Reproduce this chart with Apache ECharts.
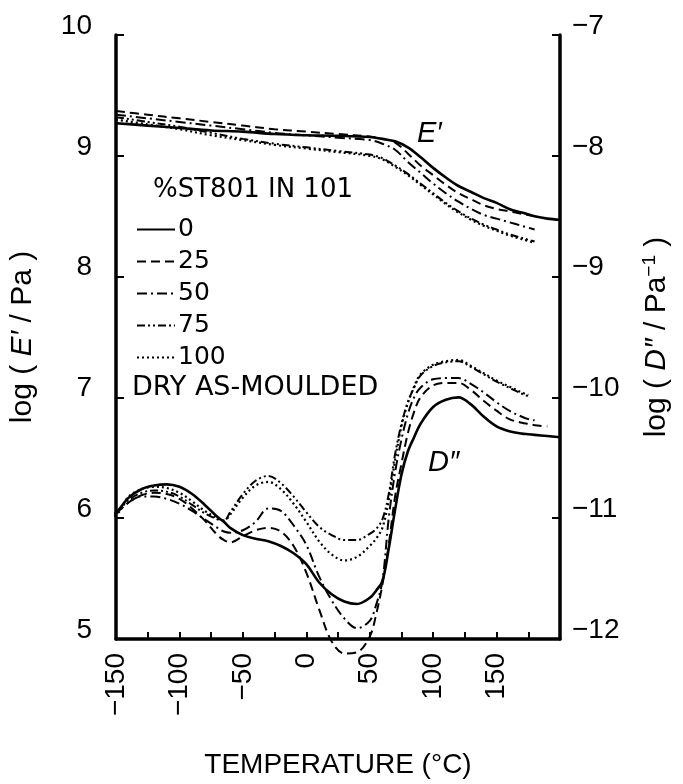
<!DOCTYPE html>
<html>
<head>
<meta charset="utf-8">
<script src="https://cdn.jsdelivr.net/npm/echarts@6/dist/echarts.min.js"></script>
<style>html,body{margin:0;padding:0;background:#fff}#c{width:683px;height:784px}</style>
</head>
<body>
<div id="c"></div>
<script>
// ---- data ----
const compositions = ['0', '25', '50', '75', '100'];
const xTickLabels = [-150, -100, -50, 0, 50, 100, 150];
const yLeftTicks = [5, 6, 7, 8, 9, 10];
const yRightTicks = [-12, -11, -10, -9, -8, -7];

// storage modulus log(E'/Pa)
const tempE = [-150,-125,-100,-75,-50,-25,0,25,50,60,70,80,90,100,110,120,130,140,150,160,170,180,190,200];
const E0   = [9.27,9.25,9.23,9.21,9.20,9.18,9.17,9.165,9.155,9.14,9.12,9.07,8.99,8.90,8.82,8.75,8.70,8.65,8.61,8.56,8.53,8.50,8.48,8.47];
const E25  = [9.37,9.34,9.31,9.28,9.25,9.22,9.20,9.18,9.16,9.14,9.11,9.02,8.92,8.84,8.76,8.69,8.64,8.59,8.56,8.54,8.52,8.50,null,null];
const E50  = [9.34,9.31,9.28,9.25,9.22,9.19,9.17,9.15,9.13,9.10,9.05,8.95,8.86,8.77,8.69,8.62,8.56,8.51,8.48,8.45,8.42,8.39,null,null];
const E75  = [9.32,9.28,9.24,9.19,9.14,9.10,9.07,9.04,9.01,8.98,8.92,8.85,8.77,8.69,8.61,8.54,8.48,8.43,8.39,8.35,8.32,8.29,null,null];
const E100 = [9.30,9.26,9.22,9.17,9.13,9.09,9.06,9.03,9.00,8.97,8.91,8.84,8.76,8.68,8.60,8.53,8.47,8.42,8.38,8.34,8.31,8.28,null,null];

// loss compliance log(D''/Pa^-1)
const tempD = [-160,-150,-140,-130,-120,-110,-100,-90,-80,-70,-65,-60,-50,-40,-30,-20,-10,0,10,20,30,40,50,55,60,65,70,75,80,85,90,100,110,120,130,140,150,160,170,175,180,190,200];
const D0   = [-11.07,-10.96,-10.83,-10.76,-10.73,-10.72,-10.74,-10.80,-10.89,-10.99,-11.03,-11.08,-11.14,-11.17,-11.19,-11.23,-11.29,-11.38,-11.53,-11.63,-11.69,-11.71,-11.66,-11.60,-11.52,-11.25,-10.93,-10.64,-10.45,-10.33,-10.22,-10.08,-10.02,-10.00,-10.06,-10.16,-10.24,-10.28,-10.30,-10.305,-10.31,-10.32,-10.33];
const D25  = [null,-10.96,-10.87,-10.81,-10.79,-10.80,-10.84,-10.92,-11.02,-11.14,-11.18,-11.20,-11.15,-11.10,-11.08,-11.11,-11.23,-11.45,-11.75,-12.02,-12.12,-12.11,-11.98,-11.80,-11.55,-11.22,-10.82,-10.55,-10.30,-10.12,-10.00,-9.90,-9.88,-9.88,-9.94,-10.03,-10.11,-10.18,-10.21,-10.22,-10.23,-10.24,null];
const D50  = [null,-10.96,-10.87,-10.82,-10.82,-10.84,-10.88,-10.94,-11.01,-11.08,-11.11,-11.12,-11.10,-11.03,-10.92,-10.94,-11.06,-11.22,-11.48,-11.68,-11.83,-11.91,-11.85,-11.72,-11.52,-11.00,-10.62,-10.35,-10.14,-10.00,-9.92,-9.85,-9.84,-9.84,-9.89,-9.96,-10.04,-10.11,-10.16,-10.18,-10.19,null,null];
const D75  = [null,-10.96,-10.85,-10.79,-10.77,-10.78,-10.82,-10.89,-10.96,-11.01,-11.02,-10.95,-10.80,-10.69,-10.65,-10.71,-10.82,-10.95,-11.07,-11.14,-11.18,-11.18,-11.13,-11.09,-11.01,-10.80,-10.47,-10.22,-10.04,-9.92,-9.82,-9.74,-9.71,-9.70,-9.75,-9.81,-9.87,-9.92,-9.97,-9.99,null,null,null];
const D100 = [-10.95,-10.96,-10.82,-10.76,-10.74,-10.75,-10.79,-10.86,-10.94,-11.00,-11.02,-10.97,-10.83,-10.73,-10.70,-10.76,-10.88,-11.03,-11.19,-11.30,-11.35,-11.32,-11.23,-11.17,-11.08,-10.85,-10.52,-10.24,-10.05,-9.91,-9.81,-9.73,-9.70,-9.69,-9.74,-9.80,-9.86,-9.91,-9.96,-9.98,null,null,null];

// ---- chart ----
const Eset = [E0, E25, E50, E75, E100];
const Dset = [D0, D25, D50, D75, D100];
const styles = [
  {type: 'solid', width: 2.6},
  {type: [9, 5], width: 2},
  {type: [10, 4, 2, 4], width: 2},
  {type: [8, 3, 2, 3, 2, 3], width: 2},
  {type: [2, 3], width: 2.2}
];
function zip(xs, ys) { return xs.map((x, i) => [x, ys[i]]); }
const MINUS = '\u2212';
function fmt(v) { return v < 0 ? MINUS + Math.abs(v) : String(v); }

const series = [];
compositions.forEach((name, i) => {
  const common = {
    name: name, type: 'line', showSymbol: false, symbol: 'none', smooth: 0.35,
    clip: false, animation: false, connectNulls: false,
    lineStyle: Object.assign({color: '#000'}, styles[i]), itemStyle: {color: '#000'}
  };
  series.push(Object.assign({}, common, {yAxisIndex: 0, data: zip(tempE, Eset[i])}));
  series.push(Object.assign({}, common, {yAxisIndex: 1, data: zip(tempD, Dset[i])}));
});

const FONT = 'Liberation Sans';
const axisCommon = {
  axisLine: {show: true, onZero: false, lineStyle: {color: '#000', width: 3.5}},
  splitLine: {show: false}
};

const chart = echarts.init(document.getElementById('c'), null, {renderer: 'canvas'});
chart.setOption({
  backgroundColor: '#fff',
  animation: false,
  grid: {left: 116, right: 123, top: 35, bottom: 138},
  xAxis: Object.assign({}, axisCommon, {
    type: 'value', min: -150, max: 200, interval: 25,
    name: 'TEMPERATURE (°C)', nameLocation: 'middle', nameGap: 112,
    nameTextStyle: {fontSize: 28, fontFamily: FONT, color: '#000'},
    axisTick: {show: true, inside: true, length: 7, lineStyle: {color: '#000', width: 2}},
    axisLabel: {
      rotate: 90, margin: 14, fontSize: 28, fontFamily: FONT, color: '#000',
      formatter: v => xTickLabels.indexOf(v) >= 0 ? fmt(v) : ''
    }
  }),
  yAxis: [
    Object.assign({}, axisCommon, {
      type: 'value', position: 'left', min: yLeftTicks[0], max: yLeftTicks[yLeftTicks.length - 1], interval: 1,
      name: '{n|log ( }{i|E′}{n| / Pa )}', nameLocation: 'middle', nameGap: 78, nameRotate: 90,
      nameTextStyle: {
        color: '#000',
        rich: {
          n: {fontSize: 30, fontFamily: FONT, color: '#000'},
          i: {fontSize: 30, fontFamily: FONT, fontStyle: 'italic', color: '#000'}
        }
      },
      axisTick: {show: true, inside: true, length: 8, lineStyle: {color: '#000', width: 2}},
      axisLabel: {margin: 24, fontSize: 28, fontFamily: FONT, color: '#000', verticalAlign: 'bottom', lineHeight: 18, formatter: v => fmt(v)}
    }),
    Object.assign({}, axisCommon, {
      type: 'value', position: 'right', min: yRightTicks[0], max: yRightTicks[yRightTicks.length - 1], interval: 1,
      name: '{n|log ( }{i|D″}{n| / Pa}{s|−1}{n| )}', nameLocation: 'middle', nameGap: 80, nameRotate: 90,
      nameTextStyle: {
        color: '#000',
        rich: {
          n: {fontSize: 30, fontFamily: FONT, color: '#000'},
          i: {fontSize: 30, fontFamily: FONT, fontStyle: 'italic', color: '#000'},
          s: {fontSize: 19, fontFamily: FONT, color: '#000', verticalAlign: 'top', padding: [0, 0, 14, 0]}
        }
      },
      axisTick: {show: true, inside: true, length: 8, lineStyle: {color: '#000', width: 2}},
      axisLabel: {margin: 12, fontSize: 28, fontFamily: FONT, color: '#000', verticalAlign: 'bottom', lineHeight: 18, formatter: v => fmt(v)}
    })
  ],
  legend: {
    data: compositions, orient: 'vertical', left: 131, top: 212,
    itemWidth: 38, itemHeight: 14, itemGap: 7, selectedMode: false,
    itemStyle: {color: 'rgba(0,0,0,0)', borderColor: 'rgba(0,0,0,0)', borderWidth: 0},
    textStyle: {fontSize: 25, fontFamily: 'DejaVu Sans', color: '#000', lineHeight: 25, padding: [0, 0, 0, -2]}
  },
  graphic: [
    {type: 'text', left: 153, top: 177, style: {text: '%ST801 IN 101', font: '26px "DejaVu Sans"', fill: '#000'}},
    {type: 'text', left: 132, top: 374, style: {text: 'DRY AS-MOULDED', font: '27px "DejaVu Sans"', fill: '#000'}},
    {type: 'text', left: 417, top: 119, style: {text: 'E′', font: 'italic 29px "Liberation Sans"', fill: '#000'}},
    {type: 'text', left: 428, top: 448, style: {text: 'D″', font: 'italic 29px "Liberation Sans"', fill: '#000'}}
  ],
  series: series
});
</script>
</body>
</html>
